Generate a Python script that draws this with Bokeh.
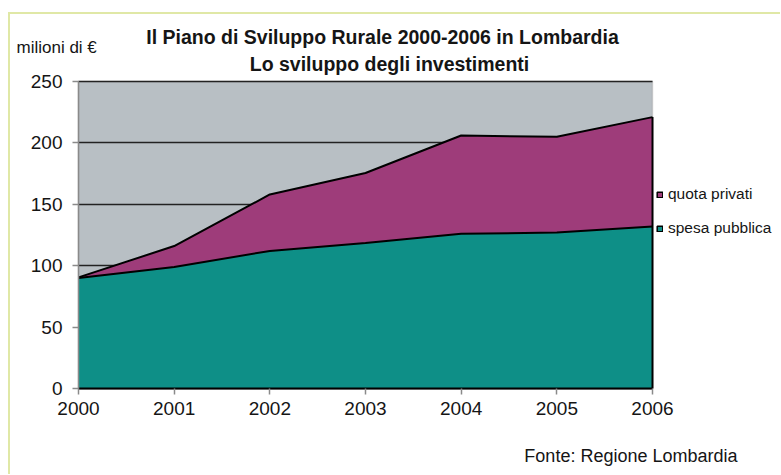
from bokeh.plotting import figure
from bokeh.models import (ColumnDataSource, Legend, LegendItem, Label, BoxAnnotation,
                          FixedTicker, Range1d)
from bokeh.embed import file_html
from bokeh.resources import INLINE

# ---- data (millions of euro) ----
years = [2000, 2001, 2002, 2003, 2004, 2005, 2006]
spesa_pubblica = [90, 99, 112, 118.5, 126, 127, 132]
quota_privati = [0.5, 17, 46, 57, 80, 78, 89]
y_ticks = [0, 50, 100, 150, 200, 250]

title_1 = "Il Piano di Sviluppo Rurale 2000-2006 in Lombardia"
title_2 = "Lo sviluppo degli investimenti"
unit_label = "milioni di €"
source_label = "Fonte: Regione Lombardia"

total = [a + b for a, b in zip(spesa_pubblica, quota_privati)]

TEAL = "#0e8f87"
MAGENTA = "#9e3c7a"
BG = "#b8bfc4"
BORDER = "#e0e8a6"
FONT = "Liberation Sans"
TXT = "#151515"
NAN = float("nan")

# canvas and plot-area geometry (pixels)
W, H = 780, 474
AL, AR, AT, AB = 78, 652, 81, 388

x0, x1 = years[0], years[-1]
y0, y1 = y_ticks[0], y_ticks[-1]
kx = (x1 - x0) / (AR - AL)
ky = (y1 - y0) / (AB - AT)
x_start, x_end = x0 - AL * kx, x0 + (W - AL) * kx
y_start, y_end = y0 - (H - AB) * ky, y0 + AB * ky


def px(xp):
    return x_start + xp * kx


def py(yp):
    return y_end - yp * ky


src = ColumnDataSource(dict(year=years, pub=spesa_pubblica, priv=quota_privati, tot=total))

p = figure(width=W, height=H, output_backend="svg", toolbar_location=None,
           x_range=Range1d(x_start, x_end), y_range=Range1d(y_start, y_end),
           min_border=0)
p.background_fill_alpha = 0
p.border_fill_alpha = 0
p.outline_line_color = None

# plot area background with grey border
p.add_layout(BoxAnnotation(left=x0, right=x1, bottom=y0, top=y1, fill_color=BG, fill_alpha=1,
                           line_color="#8a8a8a", line_width=1.5, level="image"))

p.xgrid.visible = False
p.ygrid.ticker = FixedTicker(ticks=y_ticks)
p.ygrid.cross_bounds = (x0, x1)
p.ygrid.grid_line_color = "#222222"
p.ygrid.grid_line_width = 1.5

p.varea_stack(["pub", "priv"], x="year", color=[TEAL, MAGENTA], source=src)
p.line("year", "pub", source=src, line_color="black", line_width=2)
p.line("year", "tot", source=src, line_color="black", line_width=2)
p.segment(x0=years[-1:], y0=[0], x1=years[-1:], y1=total[-1:], line_color="black", line_width=2)

# axes drawn at fixed data locations
p.xaxis.ticker = FixedTicker(ticks=years)
p.yaxis.ticker = FixedTicker(ticks=y_ticks)
p.xaxis.fixed_location = y0
p.yaxis.fixed_location = x0
p.xaxis.bounds = (x0, x1)
p.yaxis.bounds = (y0, y1)
for ax in (p.xaxis[0], p.yaxis[0]):
    ax.major_label_text_font = FONT
    ax.major_label_text_font_size = "19px"
    ax.major_label_text_color = TXT
    ax.major_tick_line_color = "#8a8a8a"
    ax.major_tick_line_width = 1.5
    ax.major_tick_in = 0
    ax.major_tick_out = 6
    ax.minor_tick_line_color = None
p.xaxis.axis_line_color = "black"
p.xaxis.axis_line_width = 2
p.xaxis.major_label_standoff = 7
p.yaxis.axis_line_color = "#8a8a8a"
p.yaxis.axis_line_width = 1.5
p.yaxis.major_label_standoff = 10

# legend swatches (one NaN row each, so nothing is drawn in the plot)
r_priv = p.quad(left=[NAN], right=[NAN], top=[NAN], bottom=[NAN], fill_color=MAGENTA,
                line_color="black", line_width=1.5)
r_pub = p.quad(left=[NAN], right=[NAN], top=[NAN], bottom=[NAN], fill_color=TEAL,
               line_color="black", line_width=1.5)
legend = Legend(items=[LegendItem(label="quota privati", renderers=[r_priv]),
                       LegendItem(label="spesa pubblica", renderers=[r_pub])],
                location=(656, H - 238))
legend.label_text_font = FONT
legend.label_text_font_size = "15.5px"
legend.label_text_color = TXT
legend.glyph_width = 7
legend.glyph_height = 7
legend.label_height = 20
legend.spacing = 14
legend.padding = 6
legend.margin = 0
legend.label_standoff = 5
legend.border_line_color = None
legend.background_fill_color = "white"
legend.background_fill_alpha = 1
p.add_layout(legend, "center")

# texts
p.add_layout(Label(x=px(382), y=py(36), text=title_1, text_font=FONT, text_font_size="19.5px",
                   text_font_style="bold", text_align="center", text_baseline="middle",
                   text_color=TXT))
p.add_layout(Label(x=px(389), y=py(63), text=title_2, text_font=FONT, text_font_size="19.5px",
                   text_font_style="bold", text_align="center", text_baseline="middle",
                   text_color=TXT))
p.add_layout(Label(x=px(16), y=py(47), text=unit_label, text_font=FONT, text_font_size="17px",
                   text_align="left", text_baseline="middle", text_color=TXT))
p.add_layout(Label(x=px(737), y=py(455), text=source_label, text_font=FONT,
                   text_font_size="18px", text_align="right", text_baseline="middle",
                   text_color=TXT))

# light frame lines (left and top) as page background
bg = ("linear-gradient({c},{c}) 8px 12px / 2px 462px no-repeat, "
      "linear-gradient({c},{c}) 8px 12px / 772px 2px no-repeat, #ffffff").format(c=BORDER)
p.styles = {"background": bg}

open("out.html", "w").write(file_html(p, INLINE))
